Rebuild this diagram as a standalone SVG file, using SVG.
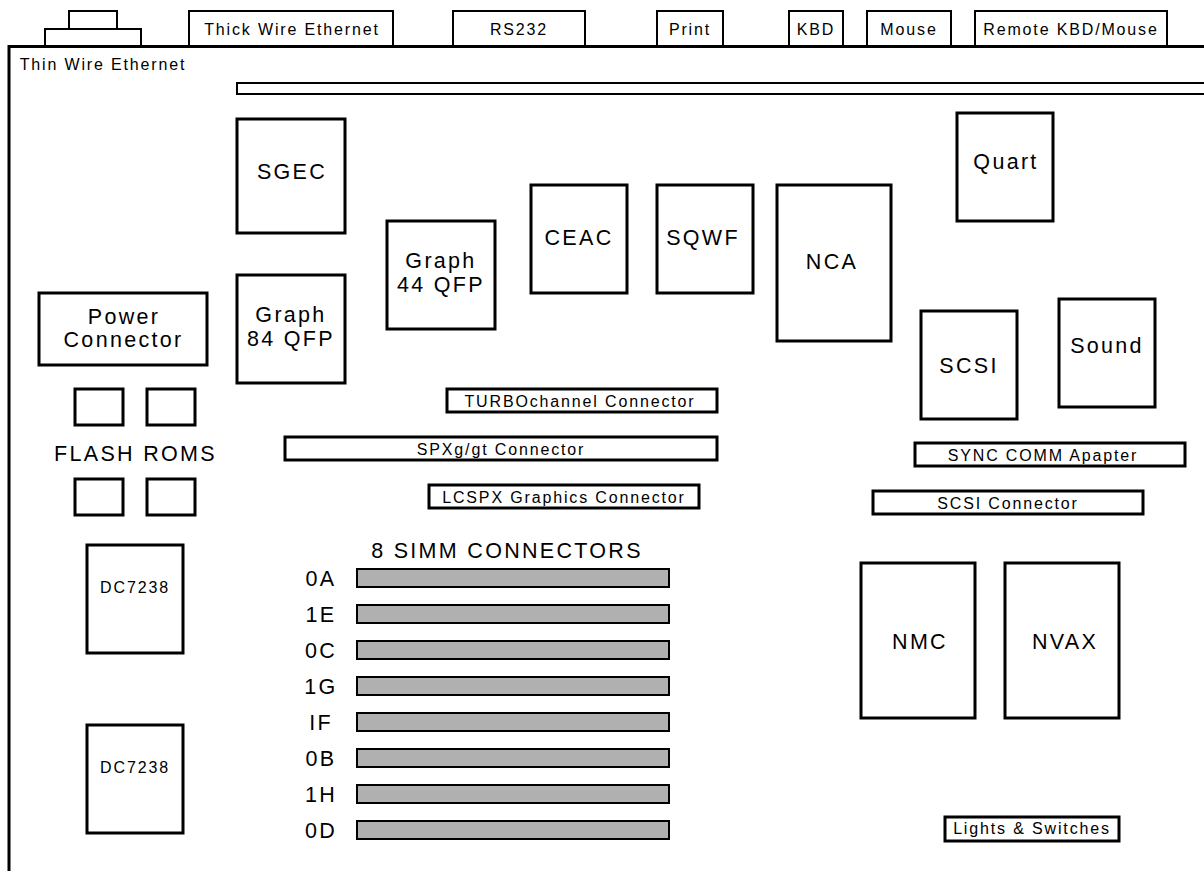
<svg xmlns="http://www.w3.org/2000/svg" width="1204" height="871" viewBox="0 0 1204 871">
<style>
rect,path{fill:#fff;stroke:#000;stroke-width:2}
.f{stroke-width:3}
.s{fill:#b0b0b0;stroke-width:2}
text{font-family:"Liberation Sans",Arial,sans-serif;fill:#000;text-anchor:middle;stroke:none}
.t14{font-size:16px;letter-spacing:1.85px}
.t20{font-size:21.5px;letter-spacing:2.3px}
.t18{font-size:21.5px;letter-spacing:2.3px}
</style>
<g id="ports">
<rect x="69" y="11" width="48" height="18"/>
<rect x="45" y="29" width="96" height="17"/>
<rect x="189" y="11" width="204" height="35"/><text class="t14" x="292" y="35">Thick Wire Ethernet</text>
<rect x="453" y="11" width="132" height="35"/><text class="t14" x="519" y="35">RS232</text>
<rect x="657" y="11" width="66" height="35"/><text class="t14" x="690" y="35">Print</text>
<rect x="789" y="11" width="54" height="35"/><text class="t14" x="816" y="35">KBD</text>
<rect x="867" y="11" width="84" height="35"/><text class="t14" x="909" y="35">Mouse</text>
<rect x="975" y="11" width="192" height="35"/><text class="t14" x="1071" y="35">Remote KBD/Mouse</text>
</g>
<g id="board">
<path class="f" d="M1204 46.500H9V871" style="fill:none"/>
<text class="t14" x="103" y="70">Thin Wire Ethernet</text>
<path d="M1204 83H237V94H1204" />
</g>
<g id="SGEC"><rect class="f" x="237" y="119" width="108" height="114"/><text class="t20" x="292" y="179">SGEC</text></g>
<g id="Graph84"><rect class="f" x="237" y="275" width="108" height="108"/><text class="t20" x="291" y="322">Graph</text><text class="t20" x="291" y="346">84 QFP</text></g>
<g id="Graph44"><rect class="f" x="387" y="221" width="108" height="108"/><text class="t20" x="441" y="268">Graph</text><text class="t20" x="441" y="292">44 QFP</text></g>
<g id="CEAC"><rect class="f" x="531" y="185" width="96" height="108"/><text class="t20" x="579" y="245">CEAC</text></g>
<g id="SQWF"><rect class="f" x="657" y="185" width="96" height="108"/><text class="t20" x="703" y="245">SQWF</text></g>
<g id="NCA"><rect class="f" x="777" y="185" width="114" height="156"/><text class="t20" x="832" y="269">NCA</text></g>
<g id="Quart"><rect class="f" x="957" y="113" width="96" height="108"/><text class="t20" x="1006" y="169">Quart</text></g>
<g id="SCSI"><rect class="f" x="921" y="311" width="96" height="108"/><text class="t20" x="969" y="373">SCSI</text></g>
<g id="Sound"><rect class="f" x="1059" y="299" width="96" height="108"/><text class="t20" x="1107" y="353">Sound</text></g>
<g id="Power"><rect class="f" x="39" y="293" width="168" height="72"/><text class="t20" x="124" y="324">Power</text><text class="t20" x="123.500" y="347">Connector</text></g>
<g id="FlashRoms">
<rect class="f" x="75" y="389" width="48" height="36"/><rect class="f" x="147" y="389" width="48" height="36"/>
<text class="t20" x="135.500" y="461">FLASH ROMS</text>
<rect class="f" x="75" y="479" width="48" height="36"/><rect class="f" x="147" y="479" width="48" height="36"/>
</g>
<g id="DC7238a"><rect class="f" x="87" y="545" width="96" height="108"/><text class="t14" x="135" y="593">DC7238</text></g>
<g id="DC7238b"><rect class="f" x="87" y="725" width="96" height="108"/><text class="t14" x="135" y="773">DC7238</text></g>
<g id="Turbo"><rect class="f" x="447" y="389" width="270" height="23"/><text class="t14" x="580" y="407">TURBOchannel Connector</text></g>
<g id="SPX"><rect class="f" x="285" y="437" width="432" height="23"/><text class="t14" x="501" y="455">SPXg/gt Connector</text></g>
<g id="LCSPX"><rect class="f" x="429" y="485" width="270" height="23"/><text class="t14" x="564" y="503">LCSPX Graphics Connector</text></g>
<g id="Sync"><rect class="f" x="915" y="443" width="270" height="23"/><text class="t14" x="1043" y="461">SYNC COMM Apapter</text></g>
<g id="SCSIConn"><rect class="f" x="873" y="491" width="270" height="23"/><text class="t14" x="1008" y="509">SCSI Connector</text></g>
<g id="NMC"><rect class="f" x="861" y="563" width="114" height="155"/><text class="t20" x="920" y="649">NMC</text></g>
<g id="NVAX"><rect class="f" x="1005" y="563" width="114" height="155"/><text class="t20" x="1065" y="649">NVAX</text></g>
<g id="Lights"><rect class="f" x="945" y="817" width="174" height="24"/><text class="t14" x="1032" y="834">Lights &amp; Switches</text></g>
<g id="SIMMs">
<text class="t18" x="507" y="558">8 SIMM CONNECTORS</text>
<rect class="s" x="357" y="569" width="312" height="18"/><text class="t18" x="321" y="586">0A</text>
<rect class="s" x="357" y="605" width="312" height="18"/><text class="t18" x="321" y="622">1E</text>
<rect class="s" x="357" y="641" width="312" height="18"/><text class="t18" x="321" y="658">0C</text>
<rect class="s" x="357" y="677" width="312" height="18"/><text class="t18" x="321" y="694">1G</text>
<rect class="s" x="357" y="713" width="312" height="18"/><text class="t18" x="321" y="730">IF</text>
<rect class="s" x="357" y="749" width="312" height="18"/><text class="t18" x="321" y="766">0B</text>
<rect class="s" x="357" y="785" width="312" height="18"/><text class="t18" x="321" y="802">1H</text>
<rect class="s" x="357" y="821" width="312" height="18"/><text class="t18" x="321" y="838">0D</text>
</g>
<g id="connectors"></g>
</svg>
